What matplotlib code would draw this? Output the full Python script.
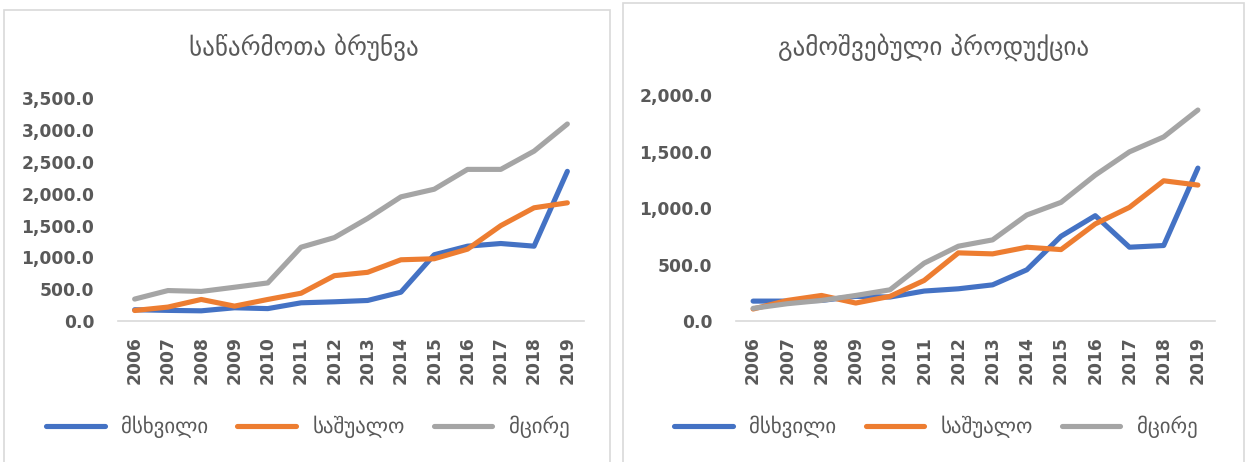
import matplotlib
matplotlib.use("Agg")
import matplotlib.pyplot as plt
from matplotlib.patches import Rectangle
from matplotlib.ticker import FuncFormatter

# მონაცემები (ჩარტიდან წაკითხული)
years = [str(y) for y in range(2006, 2020)]
series_names = ["მსხვილი", "საშუალო", "მცირე"]
colors = ["#4472C4", "#ED7D31", "#A5A5A5"]

# საწარმოთა ბრუნვა
turnover_large = [177, 167, 160, 208, 195, 286, 302, 323, 453, 1042, 1177, 1219, 1177, 2354]
turnover_medium = [165, 219, 339, 234, 339, 437, 713, 766, 963, 979, 1130, 1500, 1781, 1859]
turnover_small = [345, 479, 465, 531, 599, 1161, 1312, 1614, 1953, 2073, 2385, 2385, 2672, 3099]

# გამოშვებული პროდუქცია
output_large = [176, 176, 182, 218, 212, 265, 285, 320, 453, 750, 932, 653, 668, 1353]
output_medium = [106, 182, 226, 159, 218, 359, 603, 594, 653, 632, 859, 1006, 1241, 1203]
output_small = [112, 153, 182, 226, 276, 512, 662, 718, 938, 1050, 1291, 1497, 1629, 1867]

W, H = 1249, 462
fig = plt.figure(figsize=(W / 100, H / 100), dpi=100)
txt = "#595959"


def box(x0, y0, x1, y1):
    return [x0 / W, 1 - y1 / H, (x1 - x0) / W, (y1 - y0) / H]


# panel borders
for x0, y0, x1 in [(4, 10, 610), (623, 3, 1244)]:
    fig.patches.append(Rectangle((x0 / W, -0.1), (x1 - x0) / W, 1.1 - y0 / H,
                                 transform=fig.transFigure, fill=False,
                                 edgecolor="#D9D9D9", lw=1.2))


def draw(rect, data, ymax, title, title_x, legend_x):
    ax = fig.add_axes(rect)
    for vals, name, c in zip(data, series_names, colors):
        ax.plot(range(len(years)), vals, color=c, lw=3.7, label=name,
                solid_capstyle="round", solid_joinstyle="round")
    ax.set_xlim(-0.5, len(years) - 0.5)
    ax.set_ylim(0, ymax)
    ax.set_yticks(range(0, ymax + 1, 500))
    ax.yaxis.set_major_formatter(FuncFormatter(lambda v, p: f"{v:,.1f}"))
    ax.set_xticks(range(len(years)))
    ax.set_xticklabels(years, rotation=90)
    for s in ["top", "right", "left"]:
        ax.spines[s].set_visible(False)
    ax.spines["bottom"].set_color("#D9D9D9")
    ax.spines["bottom"].set_linewidth(1.2)
    ax.tick_params(axis="y", length=0, pad=17, labelsize=12.3, labelcolor=txt)
    ax.tick_params(axis="x", length=0, pad=11, labelsize=12.3, labelcolor=txt)
    for lab in ax.get_xticklabels() + ax.get_yticklabels():
        lab.set_fontweight("bold")
    fig.text(title_x / W, 1 - 47 / H, title, ha="center", va="center",
             fontsize=18, color=txt, family="DejaVu Sans")
    leg = fig.legend(handles=ax.get_lines(), loc="center",
                     bbox_to_anchor=(legend_x / W, 1 - 427 / H), ncol=3,
                     frameon=False, fontsize=15, handlelength=2.8,
                     columnspacing=1.4, handletextpad=0.8)
    for t in leg.get_texts():
        t.set_color(txt)
    return ax


draw(box(118, 98.5, 584, 321), [turnover_large, turnover_medium, turnover_small],
     3500, "საწარმოთა ბრუნვა", 304, 308)
draw(box(736, 95, 1215, 321), [output_large, output_medium, output_small],
     2000, "გამოშვებული პროდუქცია", 934, 936)

fig.savefig("out.png", dpi=100)
